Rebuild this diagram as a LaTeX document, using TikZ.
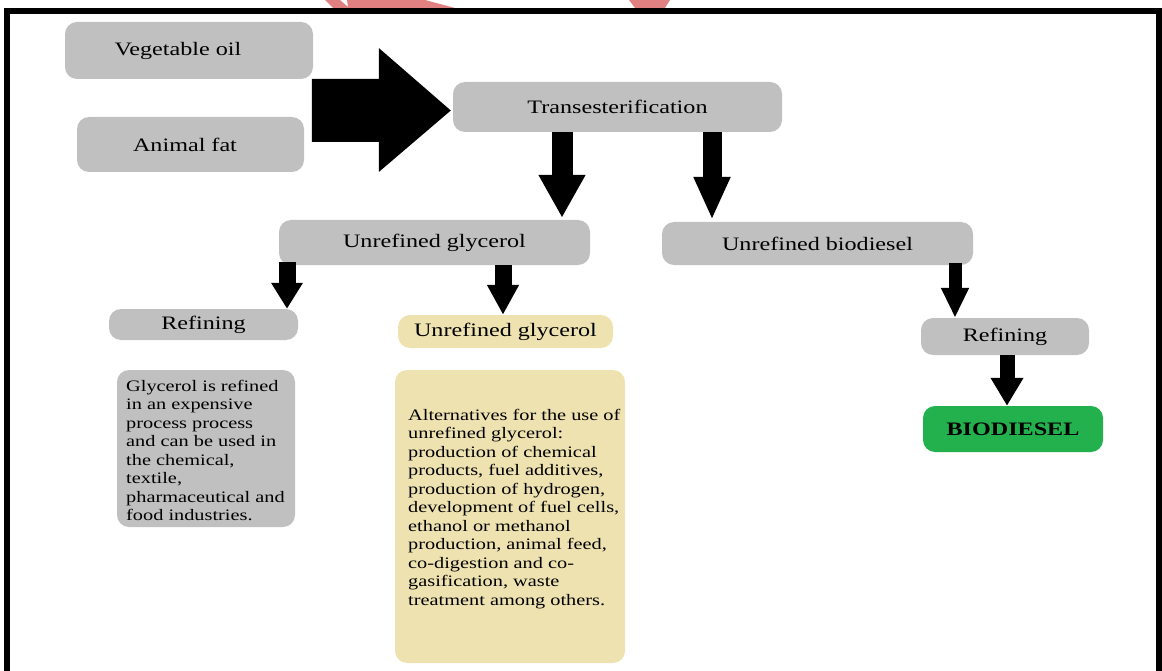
\documentclass[tikz,border=0pt]{standalone}
\usepackage{fontspec}
\setmainfont{Liberation Serif}[FakeStretch=1.27]
\usetikzlibrary{arrows.meta,calc}
\definecolor{boxgray}{HTML}{C0C0C0}
\definecolor{boxyellow}{HTML}{EEE3B0}
\definecolor{boxgreen}{HTML}{22B14C}
\definecolor{wmred}{HTML}{E08080}
\begin{document}
\begin{tikzpicture}[x=1pt,y=-1pt,
  gbox/.style={fill=boxgray, rounded corners=12pt, inner sep=0pt, font=\fontsize{19}{22}\selectfont},
  ybox/.style={fill=boxyellow, rounded corners=12pt, inner sep=0pt, font=\fontsize{19}{22}\selectfont},
  greenbox/.style={fill=boxgreen, rounded corners=12pt, inner sep=0pt, font=\fontsize{19}{22}\selectfont\bfseries},
  bodytext/.style={anchor=north west, inner sep=0pt, align=left, font=\fontsize{16}{18.5}\selectfont},
  barrow/.style args={#1/#2/#3}{draw=black, line width=#1, -{Triangle[length=#2,width=#3]}},
  frame/.style={draw=black, line width=6pt}
]
\useasboundingbox (0,0) rectangle (1162,671);
% watermark fragments
\fill[wmred] (325,0) -- (340,0) -- (348,7) -- (347,0) -- (425,0) -- (455,8) -- (333,8) -- cycle;
\fill[wmred] (629,0) -- (670,0) -- (665,8) -- (635,8) -- cycle;
% frame
\draw[frame] (7,671) -- (7,11) -- (1159,11) -- (1159,671);

% nodes
\node[gbox, minimum width=248pt, minimum height=57pt] (veg) at (189,50.5) {\hspace*{-22pt}Vegetable oil};
\node[gbox, minimum width=227pt, minimum height=55pt] (fat) at (190.5,144.5) {\hspace*{-11pt}Animal fat};
\node[gbox, minimum width=329pt, minimum height=50pt] (trans) at (617.5,107) {Transesterification};
\node[gbox, minimum width=311pt, minimum height=45pt] (ug) at (434.5,242.5) {Unrefined glycerol};
\node[gbox, minimum width=311pt, minimum height=43pt] (ub) at (817.5,243.5) {Unrefined biodiesel};
\node[gbox, minimum width=189pt, minimum height=31pt] (ref1) at (203.5,324.5) {Refining};
\node[ybox, minimum width=215pt, minimum height=33pt] (ug2) at (505.5,331.5) {Unrefined glycerol};
\node[gbox, minimum width=168pt, minimum height=37pt] (ref2) at (1005,336.5) {Refining};
\node[greenbox, minimum width=180pt, minimum height=46pt] (bio) at (1013,429) {BIODIESEL};
\node[gbox, minimum width=178pt, minimum height=157pt] (glybox) at (206,448.5) {};
\node[bodytext] (glytext) at (126,380) {Glycerol is refined\\in an expensive\\process process\\and can be used in\\the chemical,\\textile,\\pharmaceutical and\\food industries.};
\node[ybox, minimum width=230pt, minimum height=293pt] (altbox) at (510,516.5) {};
\node[bodytext] (alttext) at (408,409) {Alternatives for the use of\\unrefined glycerol:\\production of chemical\\products, fuel additives,\\production of hydrogen,\\development of fuel cells,\\ethanol or methanol\\production, animal feed,\\co-digestion and co-\\gasification, waste\\treatment among others.};

% big arrow into transesterification
\coordinate (tip) at ($(trans.west)+(-2,3.5)$);
\fill[black] (tip) -- ++(-72,-62.5) -- ++(0,31) -- ++(-67,0) -- ++(0,63) -- ++(67,0) -- ++(0,30) -- cycle;

% connectors
\draw[barrow=21pt/43pt/44pt] (trans.south -| 562,0) -- ($(ug.north -| 562,0)+(0,-2)$);
\draw[barrow=19pt/43pt/34pt] (trans.south -| 712,0) -- ($(ub.north -| 712,0)+(0,-2)$);
\draw[barrow=17pt/26pt/30pt] ($(ug.south -| 287,0)+(0,-3)$) -- (ref1.north -| 287,0);
\draw[barrow=17pt/30pt/30pt] (ug.south -| 503,0) -- (ug2.north -| 503,0);
\draw[barrow=13pt/30pt/26pt] ($(ub.south -| 955,0)+(0,-2)$) -- (ref2.north -| 955,0);
\draw[barrow=15pt/28pt/31pt] (ref2.south -| 1007,0) -- (bio.north -| 1007,0);
\end{tikzpicture}
\end{document}
